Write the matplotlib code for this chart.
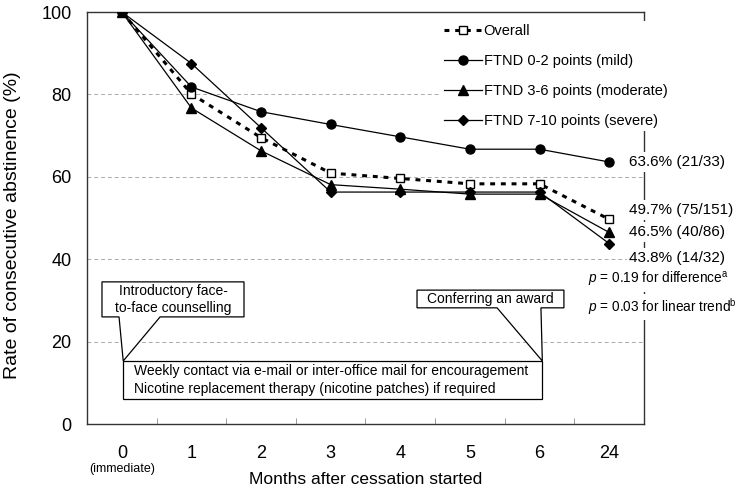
import numpy as np
import matplotlib.pyplot as plt
from matplotlib.patches import Polygon

plt.rcParams['font.family'] = ['Liberation Sans', 'DejaVu Sans']
plt.rcParams['mathtext.fontset'] = 'custom'
plt.rcParams['mathtext.rm'] = 'Liberation Sans'
plt.rcParams['mathtext.it'] = 'Liberation Sans:italic'

#%% data
months = ['0', '1', '2', '3', '4', '5', '6', '24']
overall = [100, 80.1, 69.5, 60.9, 59.6, 58.3, 58.3, 49.7]
mild = [100, 81.8, 75.8, 72.7, 69.7, 66.7, 66.7, 63.6]
moderate = [100, 76.7, 66.3, 58.1, 57.0, 55.8, 55.8, 46.5]
severe = [100, 87.5, 71.9, 56.3, 56.3, 56.3, 56.3, 43.8]

# final counts (abstinent / total)
n_overall, N_overall = 75, 151
n_mild, N_mild = 21, 33
n_mod, N_mod = 40, 86
n_sev, N_sev = 14, 32

x = np.arange(len(months))

#%% plot
fig = plt.figure(figsize=(7.45, 4.88), dpi=100)
ax = fig.add_axes([0.1168, 0.1311, 0.7476, 0.8443])

ax.plot(x, overall, color='black', lw=2.2, linestyle=(0, (1.6, 1.9)),
        marker='s', ms=6, mfc='white', mec='black', mew=1, label='Overall', zorder=3)
ax.plot(x, mild, color='black', lw=0.9, marker='o', ms=6.5, label='FTND 0-2 points (mild)', zorder=4)
ax.plot(x, moderate, color='black', lw=0.9, marker='^', ms=7, label='FTND 3-6 points (moderate)', zorder=4)
ax.plot(x, severe, color='black', lw=0.9, marker='D', ms=5, label='FTND 7-10 points (severe)', zorder=4)

ax.set_xlim(-0.5, len(months) - 0.5)
ax.set_ylim(0, 100)
ax.set_yticks([0, 20, 40, 60, 80, 100])
ax.set_xticks(x)
ax.set_xticklabels(months, fontsize=13)
ax.set_xticks(np.arange(-0.5, len(months)), minor=True)
ax.tick_params(axis='x', which='major', length=0, pad=15)
ax.tick_params(axis='x', which='minor', direction='in', length=4, color='#888888')
ax.tick_params(axis='y', length=0, pad=11, labelsize=13)
for yy in [20, 40, 60, 80]:
    ax.axhline(yy, color='#aaaaaa', lw=0.7, linestyle=(0, (4, 3)), zorder=0)
for s in ax.spines.values():
    s.set_linewidth(1)
    s.set_color('#333333')

ax.text(0, -0.11, '(immediate)', transform=ax.get_xaxis_transform(),
        ha='center', va='center', fontsize=9)

ax.set_xlabel('Months after cessation started', fontsize=12.5)
ax.xaxis.set_label_coords(0.5, -0.117)
ax.set_ylabel('Rate of consecutive abstinence (%)', fontsize=14)
ax.yaxis.set_label_coords(-0.133, 0.483)
ax.yaxis.label.set_va('center')

leg = ax.legend(loc='upper left', bbox_to_anchor=(0.635, 0.978), fontsize=10.5,
                frameon=True, facecolor='white', edgecolor='none', framealpha=1,
                borderpad=0.2, borderaxespad=0, labelspacing=1.1,
                handlelength=2.6, handletextpad=0.15)
leg.set_zorder(5)

# right-hand labels
lab_kw = dict(fontsize=11, ha='left', va='center', clip_on=False, zorder=6,
              bbox=dict(facecolor='white', edgecolor='none', pad=2))
ax.text(7.29, 63.6, f'{mild[-1]}% ({n_mild}/{N_mild})', **lab_kw)
ax.text(7.29, 51.9, f'{overall[-1]}% ({n_overall}/{N_overall})', **lab_kw)
ax.text(7.29, 46.6, f'{moderate[-1]}% ({n_mod}/{N_mod})', **lab_kw)
ax.text(7.29, 40.3, f'{severe[-1]}% ({n_sev}/{N_sev})', **lab_kw)
p_kw = dict(lab_kw, fontsize=9.8)
ax.text(6.70, 35.0, r'$\it{p}$ = 0.19 for difference$^{\rm a}$', **p_kw)
ax.text(6.70, 28.4, r'$\it{p}$ = 0.03 for linear trend$^{\rm b}$', **p_kw)

# callout boxes
def callout(x0, x1, y0, y1, bl, br, tip):
    pts = [(x0, y1), (x1, y1), (x1, y0), (br, y0), tip, (bl, y0), (x0, y0)]
    ax.add_patch(Polygon(pts, closed=True, facecolor='white', edgecolor='black',
                         lw=0.9, zorder=2))

callout(-0.285, 1.755, 26.0, 34.5, -0.04, 0.55, (0.02, 15.3))
ax.text(0.735, 30.25, 'Introductory face-\nto-face counselling', ha='center', va='center',
        fontsize=10, linespacing=1.25, zorder=3)

callout(4.24, 6.35, 28.2, 32.5, 5.39, 6.02, (6.04, 15.3))
ax.text(5.295, 30.35, 'Conferring an award', ha='center', va='center', fontsize=10, zorder=3)

ax.add_patch(Polygon([(0.02, 15.3), (6.04, 15.3), (6.04, 6.0), (0.02, 6.0)], closed=True,
                     facecolor='white', edgecolor='black', lw=0.9, zorder=2))
ax.text(0.17, 10.65, 'Weekly contact via e-mail or inter-office mail for encouragement\n'
        'Nicotine replacement therapy (nicotine patches) if required',
        ha='left', va='center', fontsize=10, linespacing=1.3, zorder=3)

fig.savefig('out.png', dpi=100)
